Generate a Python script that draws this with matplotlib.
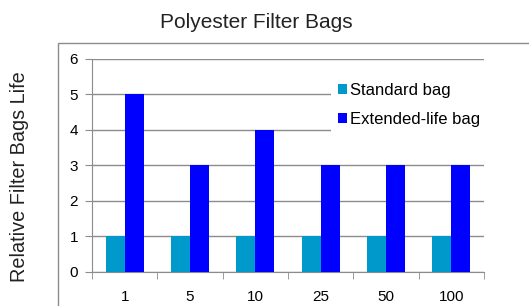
import matplotlib
matplotlib.use("Agg")
import matplotlib.pyplot as plt
import numpy as np
from matplotlib.patches import Rectangle

categories = ["1", "5", "10", "25", "50", "100"]
standard = [1, 1, 1, 1, 1, 1]
extended = [5, 3, 4, 3, 3, 3]
series_names = ["Standard bag", "Extended-life bag"]

plt.rcParams['font.family'] = ['Liberation Sans', 'DejaVu Sans']
W, H = 529, 306
fig = plt.figure(figsize=(W/100, H/100), dpi=100)

# outer chart frame
fig.patches.append(Rectangle((58/W, 0 - 0.01), 1.0, (H - 43)/H + 0.01, transform=fig.transFigure,
                             fill=False, edgecolor='#8c8c8c', linewidth=1.0))

ax = fig.add_axes([92/W, (H - 271.5)/H, (484 - 92)/W, (271.5 - 59)/H])
x = np.arange(len(categories))
bw = 0.29
ax.bar(x - bw/2, standard, bw, color='#0099CC', label=series_names[0], zorder=3)
ax.bar(x + bw/2, extended, bw, color='#0000FF', label=series_names[1], zorder=3)

ax.set_xlim(-0.5, len(categories) - 0.5)
ax.set_ylim(0, 6)
ax.set_yticks(range(0, 7))
ax.yaxis.grid(True, color='#8c8c8c', linewidth=1.0, zorder=0)
ax.set_xticks(x)
ax.set_xticklabels(categories, fontsize=11)
ax.set_xticks(np.arange(-0.5, len(categories)), minor=True)
ax.tick_params(axis='x', which='major', length=0, pad=13)
ax.tick_params(axis='x', which='minor', length=5, color='#8c8c8c', direction='out')
ax.tick_params(axis='y', length=5, color='#8c8c8c', labelsize=11, pad=5)
for s in ['top', 'right']:
    ax.spines[s].set_visible(False)
for s in ['left', 'bottom']:
    ax.spines[s].set_color('#8c8c8c')

fig.text(256/W, 1 - 23/H, "Polyester Filter Bags", ha='center', va='center', fontsize=15, color='#222222')
fig.text(20/W, 1 - 177/H, "Relative Filter Bags Life", ha='center', va='center', rotation=90, fontsize=14.3, color='#222222')

leg = ax.legend(loc='upper left', bbox_to_anchor=(323/W, 1 - 68/H), bbox_transform=fig.transFigure,
                frameon=True, facecolor='white', edgecolor='none', framealpha=1,
                fontsize=12, handlelength=0.55, handleheight=0.55, handletextpad=0.2,
                labelspacing=0.85, borderpad=0.4)
leg.set_zorder(5)

fig.savefig("out.png", dpi=100)
